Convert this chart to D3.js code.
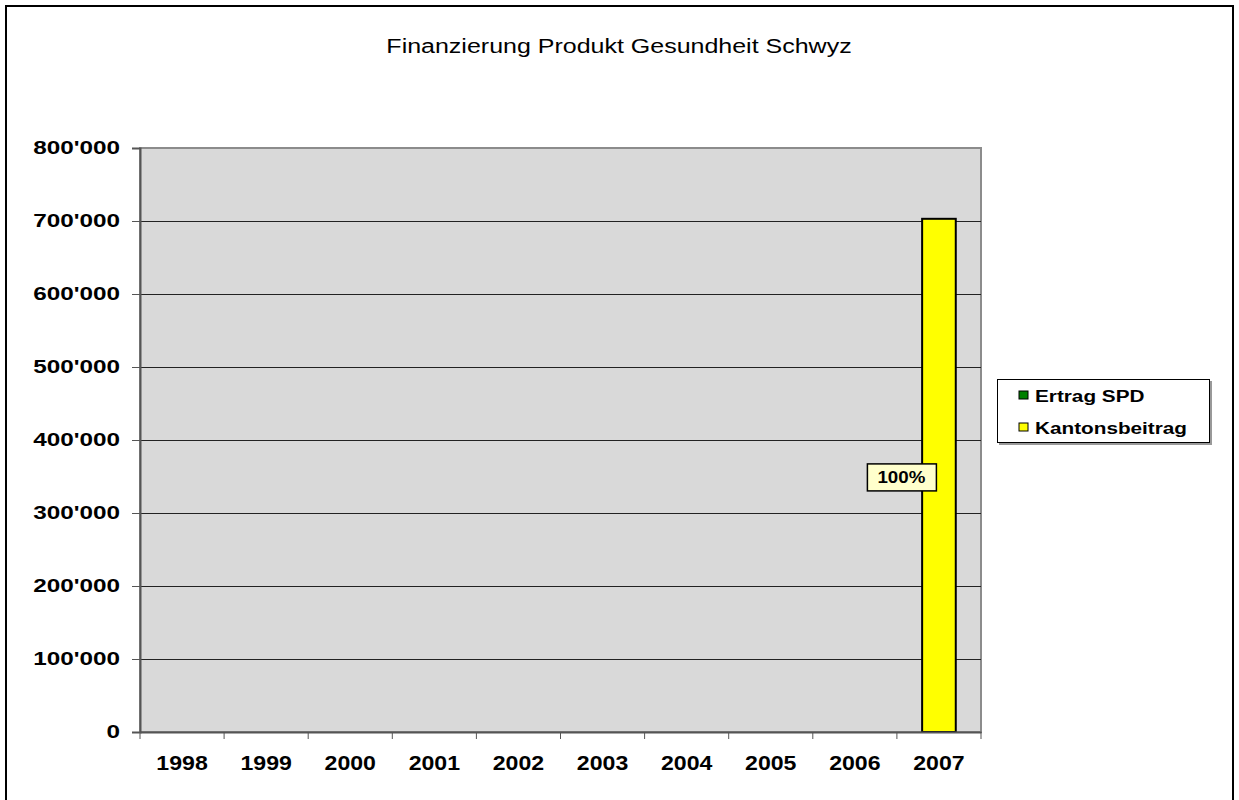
<!DOCTYPE html>
<html>
<head>
<meta charset="utf-8">
<script src="https://cdn.jsdelivr.net/npm/d3@7"></script>
<style>
  body { margin: 0; background: #fff; }
  svg { display: block; font-family: "Liberation Sans", Arial, sans-serif; }
</style>
</head>
<body>
<div id="chart"></div>
<script>
var years = ['1998', '1999', '2000', '2001', '2002', '2003', '2004', '2005', '2006', '2007'];
var ertragSPD = [0, 0, 0, 0, 0, 0, 0, 0, 0, 0];
var kantonsbeitrag = [0, 0, 0, 0, 0, 0, 0, 0, 0, 703000];
var yTicks = [0, 100000, 200000, 300000, 400000, 500000, 600000, 700000, 800000];
var seriesNames = ['Ertrag SPD', 'Kantonsbeitrag'];
var seriesColors = ['#008000', '#ffff00'];

var width = 1239, height = 800;
var plot = { left: 140, right: 981, top: 148, bottom: 732 };

var svg = d3.select('#chart').append('svg')
  .attr('width', width)
  .attr('height', height);

// outer chart frame
svg.append('rect')
  .attr('x', 6).attr('y', 6)
  .attr('width', 1227).attr('height', 800)
  .attr('fill', '#fff')
  .attr('stroke', '#000')
  .attr('stroke-width', 2);

// title (the original text is a bit wide, so stretch it)
svg.append('g')
  .attr('transform', 'translate(619,53)')
  .append('text')
  .attr('text-anchor', 'middle')
  .attr('font-size', 20)
  .attr('transform', 'scale(1.25,1)')
  .text('Finanzierung Produkt Gesundheit Schwyz');

var x = d3.scaleBand().domain(years).range([plot.left, plot.right]).paddingInner(0).paddingOuter(0);
var y = d3.scaleLinear().domain([0, 800000]).range([plot.bottom, plot.top]);

// plot background
svg.append('rect')
  .attr('x', plot.left).attr('y', plot.top)
  .attr('width', plot.right - plot.left).attr('height', plot.bottom - plot.top)
  .attr('fill', '#d9d9d9')
  .attr('stroke', '#8c8c8c')
  .attr('stroke-width', 2);

// gridlines
svg.append('g').selectAll('line')
  .data(yTicks.filter(d => d > 0 && d < 800000))
  .join('line')
  .attr('x1', plot.left).attr('x2', plot.right)
  .attr('y1', d => Math.round(y(d)) + 0.5).attr('y2', d => Math.round(y(d)) + 0.5)
  .attr('stroke', '#222')
  .attr('stroke-width', 1);

// stacked bars
var rows = years.map((yr, i) => ({ year: yr, 'Ertrag SPD': ertragSPD[i], 'Kantonsbeitrag': kantonsbeitrag[i] }));
var stack = d3.stack().keys(seriesNames)(rows);
var barW = x.bandwidth() * 0.4;

stack.forEach((layer, li) => {
  svg.append('g').selectAll('rect')
    .data(layer.filter(d => d[1] - d[0] > 0))
    .join('rect')
    .attr('x', d => x(d.data.year) + (x.bandwidth() - barW) / 2)
    .attr('y', d => y(d[1]))
    .attr('width', barW)
    .attr('height', d => y(d[0]) - y(d[1]))
    .attr('fill', seriesColors[li])
    .attr('stroke', '#000')
    .attr('stroke-width', 2);
});

// data labels (share of total)
var labelG = svg.append('g');
rows.forEach((r, i) => {
  var total = r['Ertrag SPD'] + r['Kantonsbeitrag'];
  if (total <= 0) return;
  var pct = Math.round(r['Kantonsbeitrag'] / total * 100) + '%';
  var cx = x(r.year) + 4.5;
  var cy = y(r['Kantonsbeitrag'] / 2) + 2;
  labelG.append('rect')
    .attr('x', cx - 34).attr('y', cy - 13.5)
    .attr('width', 69).attr('height', 27)
    .attr('fill', '#ffffcc')
    .attr('stroke', '#000')
    .attr('stroke-width', 1.5);
  labelG.append('g')
    .attr('transform', `translate(${cx},${cy + 6})`)
    .append('text')
    .attr('text-anchor', 'middle')
    .attr('font-size', 16)
    .attr('font-weight', 'bold')
    .attr('transform', 'scale(1.17,1)')
    .text(pct);
});

// y axis
var ySx = 1.35;
var yAxis = svg.append('g')
  .attr('transform', `translate(${plot.left},0)`)
  .call(d3.axisLeft(y).tickValues(yTicks).tickSize(8)
    .tickFormat(d => d3.format(',')(d).replace(/,/g, "'")));
yAxis.select('.domain').attr('stroke', '#555').attr('stroke-width', 2);
yAxis.selectAll('.tick line').attr('stroke', '#555');
yAxis.selectAll('text')
  .attr('x', -20 / ySx)
  .attr('transform', `scale(${ySx},1)`)
  .attr('font-size', 18).attr('font-weight', 'bold')
  .attr('font-family', '"Liberation Sans", Arial, sans-serif').attr('fill', '#000');

// x axis
var xAxis = svg.append('g')
  .attr('transform', `translate(0,${plot.bottom})`)
  .call(d3.axisBottom(x).tickSize(0).tickPadding(23));
xAxis.select('.domain').attr('stroke', '#555').attr('stroke-width', 2);
xAxis.selectAll('text')
  .attr('transform', 'scale(1.1,1)')
  .attr('font-size', 21).attr('font-weight', 'bold')
  .attr('font-family', '"Liberation Sans", Arial, sans-serif').attr('fill', '#000');
// category separators
svg.append('g').selectAll('line')
  .data(years.concat(['end']))
  .join('line')
  .attr('x1', d => d === 'end' ? plot.right : x(d))
  .attr('x2', d => d === 'end' ? plot.right : x(d))
  .attr('y1', plot.bottom).attr('y2', plot.bottom + 7)
  .attr('stroke', '#555')
  .attr('stroke-width', 1);

// legend
var legend = svg.append('g');
legend.append('rect')
  .attr('x', 999).attr('y', 381)
  .attr('width', 213).attr('height', 64)
  .attr('fill', '#999');
legend.append('rect')
  .attr('x', 997.5).attr('y', 379.5)
  .attr('width', 212).attr('height', 63)
  .attr('fill', '#fff')
  .attr('stroke', '#000')
  .attr('stroke-width', 1);
seriesNames.forEach((name, i) => {
  var ly = 402 + i * 32;
  legend.append('rect')
    .attr('x', 1019).attr('y', ly - 11)
    .attr('width', 9).attr('height', 8)
    .attr('fill', seriesColors[i])
    .attr('stroke', '#000')
    .attr('stroke-width', 1);
  legend.append('g')
    .attr('transform', `translate(1035,${ly})`)
    .append('text')
    .attr('font-size', 17)
    .attr('font-weight', 'bold')
    .attr('transform', 'scale(1.22,1)')
    .text(name);
});
</script>
</body>
</html>
